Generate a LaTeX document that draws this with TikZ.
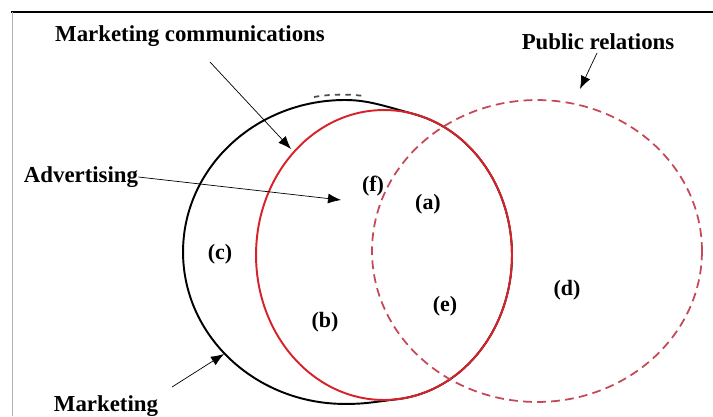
\documentclass[tikz,border=0pt]{standalone}
\usepackage{fontspec}
\setmainfont{Liberation Serif}
\usetikzlibrary{arrows.meta}
\definecolor{advred}{RGB}{214,34,40}
\definecolor{prred}{RGB}{196,72,86}
\tikzset{
	lbl/.style={black, font=\fontsize{13}{15}\selectfont\bfseries, inner sep=0pt},
	region/.style={black, font=\fontsize{12.5}{14}\selectfont\bfseries, inner sep=0pt},
	pointer/.style={draw=black, thin, -{Latex[length=2.6mm,width=2mm]}}
}
\begin{document}
\begin{tikzpicture}[x=0.02cm, y=-0.02cm]
		\useasboundingbox (0,0) rectangle (713,416);
		\draw[draw=black, line width=1.2pt] (11,12) -- (713,12);
		\draw[draw=black!30, thin] (12,12) -- (12,416);
		% circles
		\draw[draw=black, line width=1.1pt] (412.8,113.7) .. controls (384,106) and (368,100) .. (345,100)
			arc[start angle=90, end angle=270, x radius=3.24cm, y radius=3.04cm]
			.. controls (365,404) and (374,402) .. (399.6,398.9)
			arc[start angle=-83, end angle=77, x radius=2.56cm, y radius=2.90cm];
		\draw[draw=black!70, line width=1pt, dashed] (314,97) .. controls (330,94) and (348,94) .. (364,96);
		\draw[draw=advred, line width=1.1pt] (384,255) ellipse [x radius=2.56cm, y radius=2.90cm];
		\draw[draw=prred, line width=1pt, dashed, dash pattern=on 5pt off 3pt] (537,251) ellipse [x radius=3.30cm, y radius=3.02cm];
		% labels
		\node[lbl] (mktcom) at (190,36) {Marketing communications};
		\node[lbl] (pubrel) at (598,42) {Public relations};
		\node[lbl] (adv) at (81,177) {Advertising};
		\node[lbl] (mkt) at (106,406) {Marketing};
		\node[region] (f) at (373,186) {(f)};
		\node[region] (a) at (428,204) {(a)};
		\node[region] (c) at (220,254) {(c)};
		\node[region] (b) at (325,322) {(b)};
		\node[region] (e) at (445,306) {(e)};
		\node[region] (d) at (567,290) {(d)};
		% pointers
		\coordinate (mktcomtip) at (291,149);
		\coordinate (pubreltip) at (580,89);
		\coordinate (advtip) at (341,200);
		\coordinate (mkttip) at (224,354);
		\draw[pointer] (210,62) -- (mktcomtip);
		\draw[pointer] (597,53) -- (pubreltip);
		\draw[pointer] (adv.east) -- (advtip);
		\draw[pointer] (172,387) -- (mkttip);
	\end{tikzpicture}
\end{document}
